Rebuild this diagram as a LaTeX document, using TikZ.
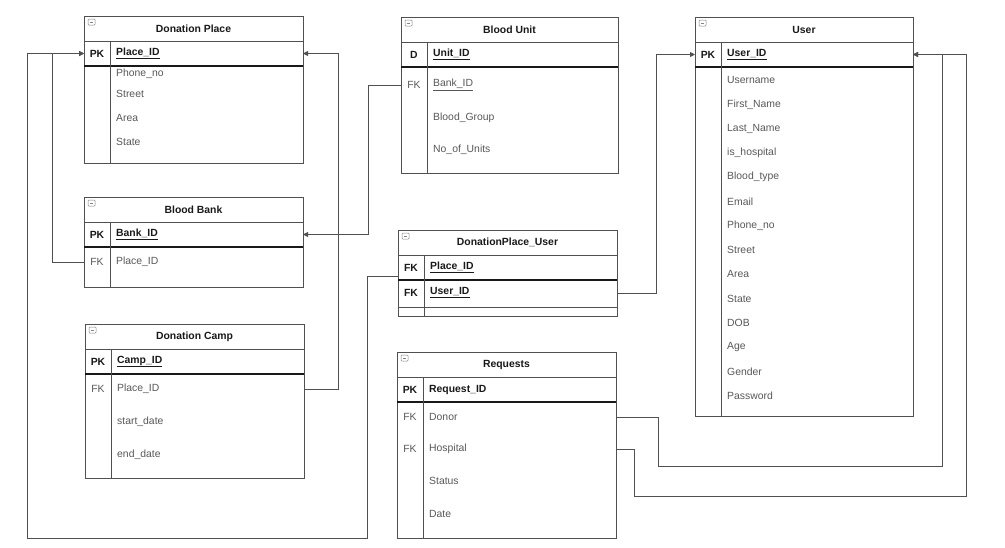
\documentclass[tikz,border=0pt]{standalone}
\usepackage{fontspec}
\setmainfont{Liberation Sans}
\usetikzlibrary{arrows.meta}

\definecolor{mline}{RGB}{80,80,80}
\definecolor{mtext}{RGB}{88,88,88}
\definecolor{mkey}{RGB}{25,25,25}
\newcommand*{\titleH}{25pt}
\newcommand*{\pkH}{50pt}
\newcommand*{\keyW}{26pt}

\tikzset{
    erframe/.style={draw=mline, line width=0.8pt, fill=white, inner sep=0pt, outer sep=0pt, anchor=north west},
    errule/.style={draw=mline, line width=0.8pt},
    erhead/.style={draw=mkey, line width=1.1pt},
    ertitle/.style={font=\fontsize{10.4}{12}\selectfont\bfseries, text=mkey, inner sep=0pt},
    erkey/.style={font=\fontsize{10.4}{12}\selectfont\bfseries, text=mkey, inner sep=0pt},
    erfk/.style={font=\fontsize{10.4}{12}\selectfont, text=mtext, inner sep=0pt},
    erpk/.style={font=\fontsize{10.4}{12}\selectfont\bfseries, text=mkey, inner sep=0pt, anchor=west},
    erfield/.style={font=\fontsize{10.4}{12}\selectfont, text=mtext, inner sep=0pt, anchor=west},
    ericon/.style={draw=mline!70, line width=0.5pt, rounded corners=0.8pt},
    fk/.style={draw=mline, line width=0.9pt},
    fkarrow/.style={fk, -{Triangle[length=5pt,width=5pt]}},
}

% table: name, x, y, width, height, title, key, primary field
\newcommand*{\erTable}[8]{
    \node[erframe, minimum width=#4pt, minimum height=#5pt] (#1) at (#2,#3) {};
    \draw[errule] ([yshift=-\titleH]#1.north west) -- ([yshift=-\titleH]#1.north east);
    \draw[erhead] ([yshift=-\pkH]#1.north west) -- ([yshift=-\pkH]#1.north east);
    \draw[errule] ([xshift=\keyW,yshift=-\titleH]#1.north west) -- ([xshift=\keyW]#1.south west);
    \draw[ericon] ([xshift=4pt,yshift=-3pt]#1.north west) rectangle ++(7,6);
    \draw[ericon] ([xshift=5.7pt,yshift=-6pt]#1.north west) -- ++(3.6,0);
    \node[ertitle] (#1-title) at ([yshift=-12.5pt]#1.north) {#6};
    \node[erkey] (#1-key) at ([xshift=13pt,yshift=-37.5pt]#1.north west) {#7};
    \node[erpk] (#1-id) at ([xshift=32pt,yshift=-37.5pt]#1.north west) {#8};
}
% field: table, node name, local y, text
\newcommand*{\erField}[4]{
    \node[erfield] (#2) at ([xshift=32pt,yshift=-#3pt]#1.north west) {#4};
}
% key label: table, node name, local y, style, text
\newcommand*{\erKey}[5]{
    \node[#4] (#2) at ([xshift=13pt,yshift=-#3pt]#1.north west) {#5};
}

\begin{document}
\begin{tikzpicture}[x=1pt, y=-1pt]

    \useasboundingbox (0,0) rectangle (1005,547);

    % Donation Place
    \erTable{dp}{84}{16}{219}{147}{Donation Place}{PK}{\underline{Place\_ID}}
    \erField{dp}{dp-phone}{58}{Phone\_no}
    \erField{dp}{dp-street}{78}{Street}
    \erField{dp}{dp-area}{102}{Area}
    \erField{dp}{dp-state}{126}{State}

    % Blood Bank
    \erTable{bb}{84}{197}{219}{90}{Blood Bank}{PK}{\underline{Bank\_ID}}
    \erKey{bb}{bb-fk}{65}{erfk}{FK}
    \erField{bb}{bb-place}{65}{Place\_ID}

    % Donation Camp
    \erTable{dc}{85}{324}{219}{154}{Donation Camp}{PK}{\underline{Camp\_ID}}
    \erKey{dc}{dc-fk}{65}{erfk}{FK}
    \erField{dc}{dc-place}{65}{Place\_ID}
    \erField{dc}{dc-start}{98}{start\_date}
    \erField{dc}{dc-end}{131}{end\_date}

    % Blood Unit
    \erTable{bu}{401}{17}{217}{156}{Blood Unit}{D}{\underline{Unit\_ID}}
    \erKey{bu}{bu-fk}{68}{erfk}{FK}
    \erField{bu}{bu-bank}{68}{\underline{Bank\_ID}}
    \erField{bu}{bu-group}{101}{Blood\_Group}
    \erField{bu}{bu-units}{133}{No\_of\_Units}

    % DonationPlace_User
    \erTable{dpu}{398}{230}{219}{86}{DonationPlace\_User}{FK}{\underline{Place\_ID}}
    \draw[errule] ([yshift=-77pt]dpu.north west) -- ([yshift=-77pt]dpu.north east);
    \erKey{dpu}{dpu-fk}{63}{erkey}{FK}
    \node[erpk] (dpu-user) at ([xshift=32pt,yshift=-63pt]dpu.north west) {\underline{User\_ID}};
    \coordinate (dpu-out) at ([yshift=-46pt]dpu.north west);

    % Requests
    \erTable{req}{397}{352}{219}{186}{Requests}{PK}{Request\_ID}
    \erKey{req}{req-fk1}{65}{erfk}{FK}
    \erKey{req}{req-fk2}{97}{erfk}{FK}
    \erField{req}{req-donor}{65}{Donor}
    \erField{req}{req-hosp}{97}{Hospital}
    \erField{req}{req-status}{129}{Status}
    \erField{req}{req-date}{162}{Date}

    % User
    \erTable{user}{695}{17}{218}{399}{User}{PK}{\underline{User\_ID}}
    \foreach \f [count=\i from 0] in {Username, First\_Name, Last\_Name, is\_hospital, Blood\_type, Email, Phone\_no, Street, Area, State, DOB, Age, Gender, Password} {
        \erField{user}{user-f\i}{\fpeval{63+24.3*\i}}{\f}
    }

    % connectors
    \coordinate (loop-corner) at (27,538);
    \coordinate (donor-corner) at (942,466);
    \coordinate (hosp-corner) at (966,496);

    \path[fkarrow] (bb.west |- bb-place) -- ++(-32,0) |- (dp.west |- dp-id);
    \path[fkarrow] (dc.east |- dc-place) -- ++(34,0) |- (dp.east |- dp-id);
    \path[fkarrow] (dpu-out) -- ++(-31,0) |- (loop-corner) |- (dp.west |- dp-id);
    \path[fkarrow] (bu.west |- bu-bank) -- ++(-33,0) |- (bb.east |- bb-id);
    \path[fkarrow] (dpu.east |- dpu-user) -- ++(39,0) |- (user.west |- user-id);
    \path[fkarrow] (req.east |- req-donor) -- ++(42,0) |- (donor-corner) |- (user.east |- user-id);
    \path[fkarrow] (req.east |- req-hosp) -- ++(18,0) |- (hosp-corner) |- (user.east |- user-id);

\end{tikzpicture}
\end{document}
